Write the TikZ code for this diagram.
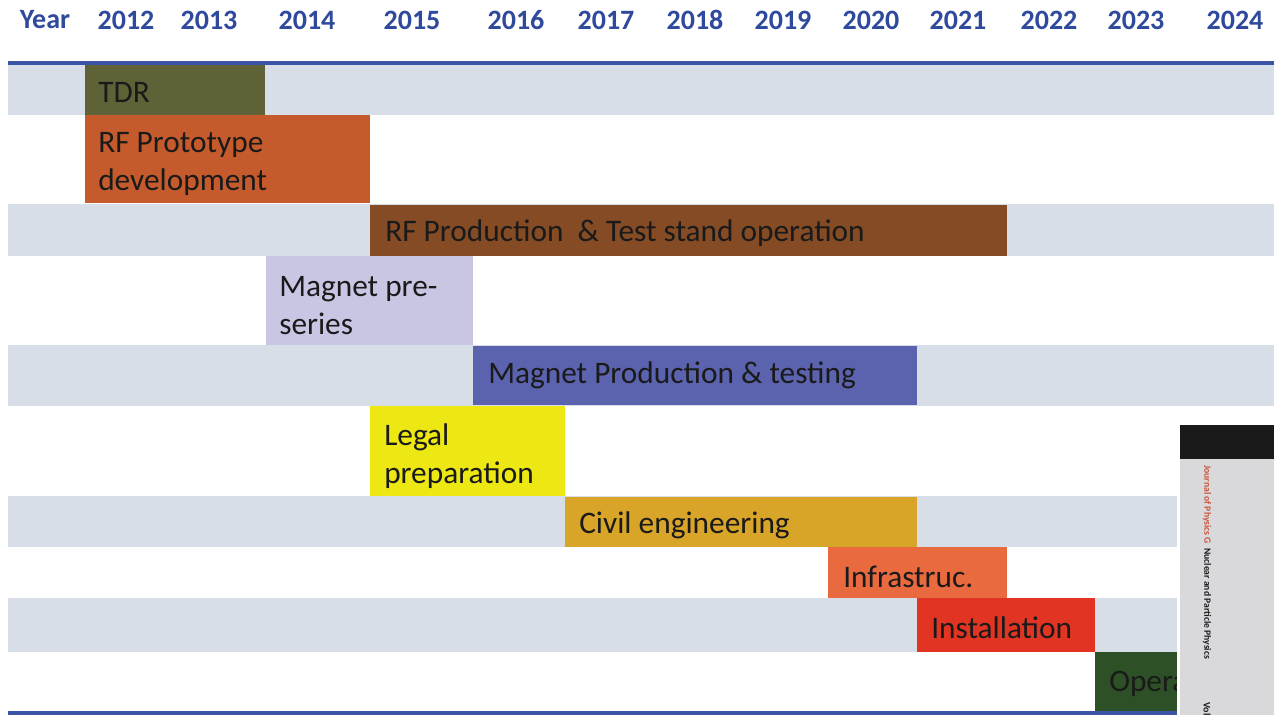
\documentclass[tikz,border=0pt]{standalone}
\usepackage{fontspec}
\setmainfont{Carlito}
\definecolor{band}{HTML}{D7DEE8}
\definecolor{hdrblue}{HTML}{2F4A9C}
\definecolor{lineblue}{HTML}{3C54A5}
\definecolor{ctdr}{HTML}{5F6236}
\definecolor{cproto}{HTML}{C55B2D}
\definecolor{cprod}{HTML}{844B25}
\definecolor{cmpre}{HTML}{C9C6E4}
\definecolor{cmprod}{HTML}{5B63AF}
\definecolor{clegal}{HTML}{EDE813}
\definecolor{ccivil}{HTML}{D9A528}
\definecolor{cinfra}{HTML}{EA6A40}
\definecolor{cinst}{HTML}{E23422}
\definecolor{coper}{HTML}{2E5026}
\definecolor{covergray}{HTML}{D9D9DB}
\definecolor{coverblack}{HTML}{1A1A1A}
\definecolor{journalred}{HTML}{C8553A}
\definecolor{txt}{HTML}{1A1A1A}
\begin{document}
\begin{tikzpicture}[x=0.75pt,y=-0.75pt,
  yearlbl/.style={font=\bfseries\fontsize{21}{25}\selectfont, text=hdrblue, inner sep=0pt},
  barlbl/.style={anchor=west, align=left, inner sep=0pt, text=txt,
     font=\fontsize{23.5}{28.5}\selectfont},
  hline/.style={draw=lineblue, line width=2.4pt},
  ]
\path[use as bounding box, clip] (0,0) rectangle (1274,715);
\fill[white] (0,0) rectangle (1274,715);
% header
\node[yearlbl] (y0) at (45,20) {Year};
\node[yearlbl] (y12) at (126,20) {2012};
\node[yearlbl] (y13) at (209,20) {2013};
\node[yearlbl] (y14) at (307,20) {2014};
\node[yearlbl] (y15) at (412,20) {2015};
\node[yearlbl] (y16) at (516,20) {2016};
\node[yearlbl] (y17) at (606,20) {2017};
\node[yearlbl] (y18) at (695,20) {2018};
\node[yearlbl] (y19) at (783,20) {2019};
\node[yearlbl] (y20) at (871,20) {2020};
\node[yearlbl] (y21) at (958,20) {2021};
\node[yearlbl] (y22) at (1049,20) {2022};
\node[yearlbl] (y23) at (1136,20) {2023};
\node[yearlbl] (y24) at (1235,20) {2024};
% bands
\fill[band] (8,65) rectangle (1274,115);
\fill[band] (8,204) rectangle (1274,256);
\fill[band] (8,345) rectangle (1274,406);
\fill[band] (8,496) rectangle (1274,547);
\fill[band] (8,598) rectangle (1274,652);
% bars
\fill[ctdr] (85,65) rectangle (265,115);
\fill[cproto] (85,115) rectangle (370,203);
\fill[cprod] (370,205) rectangle (1007,256);
\fill[cmpre] (266,256) rectangle (473,345);
\fill[cmprod] (473,346) rectangle (917,405);
\fill[clegal] (370,406) rectangle (565,496);
\fill[ccivil] (565,497) rectangle (917,547);
\fill[cinfra] (828,547) rectangle (1007,598);
\fill[cinst] (917,598) rectangle (1095,652);
\fill[coper] (1095,652) rectangle (1180,712);
% labels
\node[barlbl] (tdr) at (98,92) {TDR};
\node[barlbl] (proto) at (98,164) {RF Prototype\\development};
\node[barlbl] (prod) at (385,233) {RF Production\ \ \& Test stand operation};
\node[barlbl] (mpre) at (279,306) {Magnet pre-\\series};
\node[barlbl] (mprod) at (488,375) {Magnet Production \& testing};
\node[barlbl] (legal) at (384,456) {Legal\\preparation};
\node[barlbl] (civil) at (579,525) {Civil engineering};
\node[barlbl] (infra) at (843,577) {Infrastruc.};
\node[barlbl] (inst) at (931,628) {Installation};
\begin{scope}
\clip (1095,652) rectangle (1178,712);
\node[barlbl] (oper) at (1109,683) {Operation};
\end{scope}
% lines
\draw[hline] (8,63) -- (1274,63);
\draw[hline] (8,713) -- (1274,713);
% journal cover
\fill[white] (1177,425) rectangle (1274,715);
\fill[covergray] (1180,459) rectangle (1274,715);
\fill[coverblack] (1180,425) rectangle (1274,459);
\node[anchor=west, rotate=-90, inner sep=0pt, font=\bfseries\fontsize{7.2}{8}\selectfont] (journal) at (1207,465)
  {\textcolor{journalred}{Journal of Physics G}\ \ \textcolor{txt}{Nuclear and Particle Physics}};
\node[anchor=west, rotate=-90, inner sep=0pt, font=\bfseries\fontsize{7.5}{8}\selectfont, text=txt] (vol) at (1207,702) {Vol};
\end{tikzpicture}
\end{document}
